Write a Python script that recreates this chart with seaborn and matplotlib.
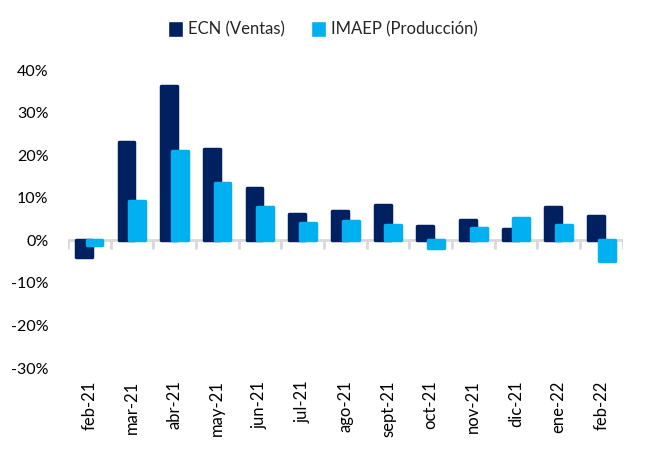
import matplotlib
matplotlib.use("Agg")
import matplotlib.pyplot as plt
from matplotlib.patches import Patch
from matplotlib.ticker import FuncFormatter
import seaborn as sns
import numpy as np

# datos (variación %)
meses = ["feb-21", "mar-21", "abr-21", "may-21", "jun-21", "jul-21", "ago-21",
         "sept-21", "oct-21", "nov-21", "dic-21", "ene-22", "feb-22"]
ecn = [-3.9, 23.1, 36.3, 21.4, 12.3, 6.1, 6.8, 8.4, 3.4, 4.8, 2.7, 7.9, 5.8]
imaep = [-1.0, 9.2, 21.0, 13.5, 7.8, 4.1, 4.5, 3.7, -1.8, 2.9, 5.3, 3.7, -4.8]

c_ecn = "#002060"
c_imaep = "#00B0F0"

sns.set_style("white")
plt.rcParams["font.family"] = ["Lato", "DejaVu Sans"]

fig = plt.figure(figsize=(6.46, 4.5), dpi=100)
ax = fig.add_axes([0.105, 0.182, 0.859, 0.662])

pos = np.arange(len(meses))
sns.barplot(x=pos - 0.125, y=ecn, native_scale=True, width=0.37, color=c_ecn,
            saturation=1, ax=ax, zorder=2)
sns.barplot(x=pos + 0.125, y=imaep, native_scale=True, width=0.37, color=c_imaep,
            saturation=1, ax=ax, zorder=3)

# esquinas redondeadas
for p in ax.patches:
    p.set_edgecolor(p.get_facecolor())
    p.set_linewidth(2.5)
    p.set_joinstyle("round")

# línea del cero con marcas entre categorías
ax.axhline(0, color="#D9D9D9", lw=2, zorder=1)
ax.vlines(np.arange(len(meses) + 1) - 0.5, -2.0, 0, color="#D9D9D9", lw=2, zorder=1)

ax.set_xlim(-0.5, len(meses) - 0.5)
ax.set_ylim(-30, 40)
ax.set_yticks(np.arange(-30, 41, 10))
ax.yaxis.set_major_formatter(FuncFormatter(lambda v, _: f"{v:.0f}%"))
ax.set_xticks(pos)
ax.set_xticklabels(meses, rotation=90)
ax.tick_params(axis="both", length=0, colors="black")
ax.tick_params(axis="x", pad=9, labelsize=12)
ax.tick_params(axis="y", pad=14, labelsize=11.5)
for s in ax.spines.values():
    s.set_visible(False)

handles = [Patch(facecolor=c_ecn, label="ECN (Ventas)"),
           Patch(facecolor=c_imaep, label="IMAEP (Producción)")]
fig.legend(handles=handles, loc="center", bbox_to_anchor=(0.5, 0.935), ncol=2,
           frameon=False, fontsize=12, handlelength=0.9, handleheight=1.1,
           handletextpad=0.3, columnspacing=1.6)

fig.savefig("out.png", dpi=100)
